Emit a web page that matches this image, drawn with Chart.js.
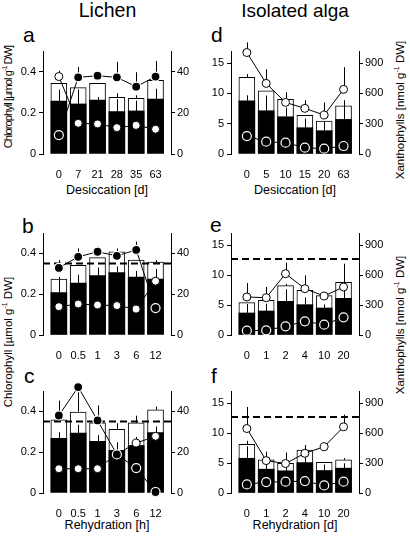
<!DOCTYPE html>
<html>
<head>
<meta charset="utf-8">
<script src="https://cdn.jsdelivr.net/npm/chart.js@4.4.1/dist/chart.umd.min.js"></script>
<style>
  body { margin: 0; width: 410px; height: 537px; overflow: hidden; position: relative; background: #fff; font-family: "Liberation Sans", Arial, sans-serif; color: #000; -webkit-font-smoothing: antialiased; }
  canvas { position: absolute; }
  .t { position: absolute; white-space: nowrap; line-height: 1; }
  .rot { position: absolute; white-space: nowrap; text-align: center; line-height: 14px; height: 14px; font-size: 11.5px; }
  .rot sup { font-size: 7px; line-height: 0; }
</style>
</head>
<body>
<div class="t" style="left:0;width:215px;text-align:center;top:1px;font-size:19.5px">Lichen</div>
<div class="t" style="left:190px;width:210px;text-align:center;top:1px;font-size:19px">Isolated alga</div>

<div class="t" style="left:23px;top:24px;font-size:21px">a</div>
<div class="t" style="left:211px;top:24px;font-size:21px">d</div>
<div class="t" style="left:22px;top:215px;font-size:21px">b</div>
<div class="t" style="left:210px;top:214px;font-size:21px">e</div>
<div class="t" style="left:24px;top:365px;font-size:21px">c</div>
<div class="t" style="left:211px;top:365px;font-size:21px">f</div>

<div class="t" style="left:7px;width:200px;text-align:center;top:184px;font-size:12.5px">Desiccation [d]</div>
<div class="t" style="left:195px;width:200px;text-align:center;top:184px;font-size:12.5px">Desiccation [d]</div>
<div class="t" style="left:7px;width:200px;text-align:center;top:519px;font-size:12.5px">Rehydration [h]</div>
<div class="t" style="left:195px;width:200px;text-align:center;top:519px;font-size:12.5px">Rehydration [d]</div>

<div class="rot" style="left:-72px;top:90px;width:160px;font-size:11px;letter-spacing:-0.9px;transform:rotate(-90deg)">Chlorophyll [µmol g<sup>-1</sup> DW]</div>
<div class="rot" style="left:-72px;top:335px;width:160px;transform:rotate(-90deg)">Chlorophyll [µmol g<sup>-1</sup> DW]</div>
<div class="rot" style="left:320px;top:103px;width:160px;transform:rotate(-90deg)">Xanthophylls [nmol g<sup>-1</sup> DW]</div>
<div class="rot" style="left:320px;top:318px;width:160px;transform:rotate(-90deg)">Xanthophylls [nmol g<sup>-1</sup> DW]</div>

<canvas id="ca" width="196" height="141" style="left:9px;top:37px"></canvas>
<canvas id="cb" width="196" height="140" style="left:9px;top:219px"></canvas>
<canvas id="cc" width="196" height="140" style="left:9px;top:377px"></canvas>
<canvas id="cd" width="196" height="141" style="left:197px;top:37px"></canvas>
<canvas id="ce" width="196" height="140" style="left:197px;top:219px"></canvas>
<canvas id="cf" width="196" height="140" style="left:197px;top:377px"></canvas>

<script>
// ---- Lichen: desiccation [d]  (chlorophyll left axis, xanthophylls right axis)
const aLabels   = ["0", "7", "21", "28", "35", "63"];
const aChlA     = [0.257, 0.243, 0.262, 0.206, 0.209, 0.267];
const aChlAErr  = [0.055, 0.07, 0.015, 0.06, 0.05, 0.05];
const aChlTot   = [0.343, 0.322, 0.343, 0.275, 0.270, 0.358];
const aChlTotErr= [0, 0, 0, 0.02, 0.015, 0];
const aFilled   = [9.2, 37.2, 38.0, 37.2, 32.7, 37.6];
const aFilledErr= [3, 5, 1.5, 7.5, 7, 7.5];
const aOpen     = [37.6, 14.9, 14.6, 12.8, 13.9, 12.0];
const aOpenErr  = [2.9, 2, 1.5, 2, 2, 2];

// ---- Lichen: rehydration [h]
const bLabels   = ["0", "0.5", "1", "3", "6", "12"];
const bChlA     = [0.208, 0.255, 0.291, 0.306, 0.284, 0.274];
const bChlAErr  = [0.065, 0.04, 0.04, 0.03, 0.03, 0.05];
const bChlTot   = [0.274, 0.342, 0.379, 0.408, 0.367, 0.357];
const bChlTotErr= [0.01, 0, 0, 0, 0, 0.01];
const bFilled   = [32.9, 38.3, 40.8, 38.8, 41.7, 13.2];
const bFilledErr= [3.8, 4.1, 2.5, 3.6, 4.1, 3];
const bOpen     = [13.9, 15.2, 14.7, 14.4, 12.7, 26.4];
const bOpenErr  = [2, 2, 2, 2, 2, 3];

const cLabels   = ["0", "0.5", "1", "3", "6", "12"];
const cChlA     = [0.268, 0.294, 0.253, 0.209, 0.233, 0.296];
const cChlAErr  = [0.03, 0.04, 0.03, 0.04, 0.04, 0.03];
const cChlTot   = [0.359, 0.397, 0.344, 0.312, 0.344, 0.408];
const cChlTotErr= [0, 0, 0.01, 0.03, 0.035, 0.016];
const cFilled   = [38.0, 51.9, 35.6, 18.9, 12.2, 0.5];
const cFilledErr= [7.3, -12, 7.3, -5, -3, 0];
const cOpen     = [11.9, 11.9, 11.9, 19.0, 24.5, 27.8];
const cOpenErr  = [0, 0, 0, 0, 3, 2.5];

// ---- Isolated alga: desiccation [d]
const dLabels   = ["0", "5", "10", "15", "20", "63"];
const dChlA     = [8.79, 7.14, 6.15, 4.34, 3.85, 5.71];
const dChlAErr  = [0.9, 2.5, 1.5, 1.5, 1.5, 2.4];
const dChlTot   = [12.64, 10.44, 9.01, 6.37, 5.44, 7.97];
const dChlTotErr= [0.55, 0, 0, 0, 0, 0.9];
const dOpen     = [1005, 699, 511, 452, 386, 640];
const dOpenErr  = [100, 140, 100, 80, 125, 220];
const dFilled   = [178, 122, 112, 63, 53, 79];
const dFilledErr= [0, 0, 0, 0, 0, 0];

// ---- Isolated alga: rehydration [d]
const eLabels   = ["0", "1", "2", "4", "10", "20"];
const eChlA     = [3.67, 4.0, 5.61, 5.06, 4.5, 6.11];
const eChlAErr  = [1.5, 1.2, 2.0, 1.2, 0.6, 1.5];
const eChlTot   = [5.39, 5.78, 8.22, 7.44, 6.56, 8.78];
const eChlTotErr= [0, 0, 0.3, 0, 0, 0];
const eOpen     = [380, 373, 613, 463, 390, 480];
const eOpenErr  = [140, 107, 110, 133, 40, 233];
const eFilled   = [43, 47, 87, 137, 103, 177];
const eFilledErr= [0, 0, 0, 0, 0, 0];

const fLabels   = ["0", "1", "2", "4", "10", "20"];
const fChlA     = [5.79, 3.97, 3.70, 5.07, 3.75, 4.14];
const fChlAErr  = [2.0, 1.0, 0.8, 1.5, 1.0, 0.8];
const fChlTot   = [8.10, 5.52, 4.96, 7.17, 5.13, 5.52];
const fChlTotErr= [0.6, 0, 0, 0.5, 0, 0.3];
const fOpen     = [645, 324, 295, 397, 463, 662];
const fOpenErr  = [215, 90, 110, 83, 0, 122];
const fFilled   = [86, 109, 113, 119, 76, 113];
const fFilledErr= [0, 0, 0, 0, 0, 0];

// control levels (dashed lines)
const lichenCtrl = 0.35;
const algaCtrl = 12.65;

const font = { family: '"Liberation Sans", Arial, sans-serif', size: 11 };

function drawErr(chart, idx) {
  const ds = chart.data.datasets[idx];
  const meta = chart.getDatasetMeta(idx);
  const sc = chart.scales[ds.yAxisID];
  const ctx = chart.ctx;
  ctx.save();
  ctx.strokeStyle = "#000";
  ctx.lineWidth = 1;
  meta.data.forEach((el, i) => {
    const e = ds.errors[i];
    if (!e) return;
    const v = ds.data[i].y;
    const x = Math.round(el.x) + 0.5;
    ctx.beginPath();
    ctx.moveTo(x, sc.getPixelForValue(v));
    ctx.lineTo(x, sc.getPixelForValue(v + e));
    ctx.stroke();
  });
  ctx.restore();
}

// whiskers: bars get them on top, lines get them under the markers
const whiskers = {
  id: "whiskers",
  beforeDatasetDraw(chart, args) {
    const ds = chart.data.datasets[args.index];
    if (ds.type === "line" && ds.errors) drawErr(chart, args.index);
  },
  afterDatasetDraw(chart, args) {
    const ds = chart.data.datasets[args.index];
    if (ds.type === "bar" && ds.errors) drawErr(chart, args.index);
  }
};

const X0 = -0.82, X1 = 5.8;
const pts = arr => arr.map((v, i) => ({ x: i, y: v }));

function panel(id, p) {
  const datasets = [
    { type: "bar", data: pts(p.tot), errors: p.totErr, backgroundColor: "#fff", borderColor: "#000", borderWidth: 1, yAxisID: "y", order: 6 },
    { type: "bar", data: pts(p.chlA), errors: p.chlAErr, backgroundColor: "#000", yAxisID: "y", order: 5 }
  ];
  if (p.ref) {
    datasets.push({ type: "line", data: [{ x: X0, y: p.ref }, { x: X1, y: p.ref }], borderColor: "#000", borderWidth: 2,
      borderDash: [7, 4], pointRadius: 0, yAxisID: "y", order: 4, clip: false });
  }
  datasets.push({ type: "line", data: pts(p.open), errors: p.openErr, yAxisID: "y1", borderColor: "#000", borderWidth: 1,
    pointRadius: 4, pointBackgroundColor: "#fff", pointBorderColor: "#000", pointBorderWidth: 1, clip: false, order: 2 });
  datasets.push({ type: "line", data: pts(p.filled), errors: p.filledErr, yAxisID: "y1", borderColor: "#000", borderWidth: 1,
    pointRadius: 4.5, pointBackgroundColor: "#000", pointBorderColor: "#fff", pointBorderWidth: 1.2, clip: false, order: 1 });

  new Chart(document.getElementById(id), {
    type: "bar",
    data: { datasets },
    options: {
      responsive: false,
      animation: false,
      layout: { padding: { top: 14 } },
      datasets: { bar: { grouped: false, barThickness: 16 } },
      plugins: { legend: { display: false }, tooltip: { enabled: false } },
      scales: {
        x: {
          type: "linear", min: X0, max: X1, offset: false,
          grid: { display: false, offset: false }, border: { display: false },
          afterBuildTicks: s => { s.ticks = p.labels.map((_, i) => ({ value: i })); },
          ticks: { autoSkip: false, maxRotation: 0, padding: 6, color: "#000", font,
            callback: (v, i) => p.labels[i] },
          afterFit: s => { s.height = 24; }
        },
        y: {
          position: "left", min: 0, max: p.yMax,
          ticks: { stepSize: p.yStep, includeBounds: false, padding: 3, color: "#000", font },
          grid: { drawOnChartArea: false, color: "#000", tickLength: 4 },
          border: { color: "#000" },
          afterFit: s => { s.width = 34; }
        },
        y1: {
          position: "right", min: 0, max: p.y1Max,
          ticks: { stepSize: p.y1Step, includeBounds: false, padding: 2, color: "#000", font },
          grid: { drawOnChartArea: false, color: "#000", tickLength: 4 },
          border: { color: "#000" },
          afterFit: s => { s.width = 34; }
        }
      }
    },
    plugins: [whiskers]
  });
}

const lichenAxes = { yMax: 0.5, yStep: 0.2, y1Max: 50, y1Step: 20 };
const algaAxes = { yMax: 17, yStep: 5, y1Max: 1020, y1Step: 300 };

panel("ca", { ...lichenAxes, labels: aLabels, chlA: aChlA, chlAErr: aChlAErr, tot: aChlTot, totErr: aChlTotErr,
  filled: aFilled, filledErr: aFilledErr, open: aOpen, openErr: aOpenErr });
panel("cb", { ...lichenAxes, ref: lichenCtrl, labels: bLabels, chlA: bChlA, chlAErr: bChlAErr, tot: bChlTot, totErr: bChlTotErr,
  filled: bFilled, filledErr: bFilledErr, open: bOpen, openErr: bOpenErr });
panel("cc", { ...lichenAxes, ref: lichenCtrl, labels: cLabels, chlA: cChlA, chlAErr: cChlAErr, tot: cChlTot, totErr: cChlTotErr,
  filled: cFilled, filledErr: cFilledErr, open: cOpen, openErr: cOpenErr });
panel("cd", { ...algaAxes, labels: dLabels, chlA: dChlA, chlAErr: dChlAErr, tot: dChlTot, totErr: dChlTotErr,
  filled: dFilled, filledErr: dFilledErr, open: dOpen, openErr: dOpenErr });
panel("ce", { ...algaAxes, ref: algaCtrl, labels: eLabels, chlA: eChlA, chlAErr: eChlAErr, tot: eChlTot, totErr: eChlTotErr,
  filled: eFilled, filledErr: eFilledErr, open: eOpen, openErr: eOpenErr });
panel("cf", { ...algaAxes, ref: algaCtrl, labels: fLabels, chlA: fChlA, chlAErr: fChlAErr, tot: fChlTot, totErr: fChlTotErr,
  filled: fFilled, filledErr: fFilledErr, open: fOpen, openErr: fOpenErr });
</script>
</body>
</html>
